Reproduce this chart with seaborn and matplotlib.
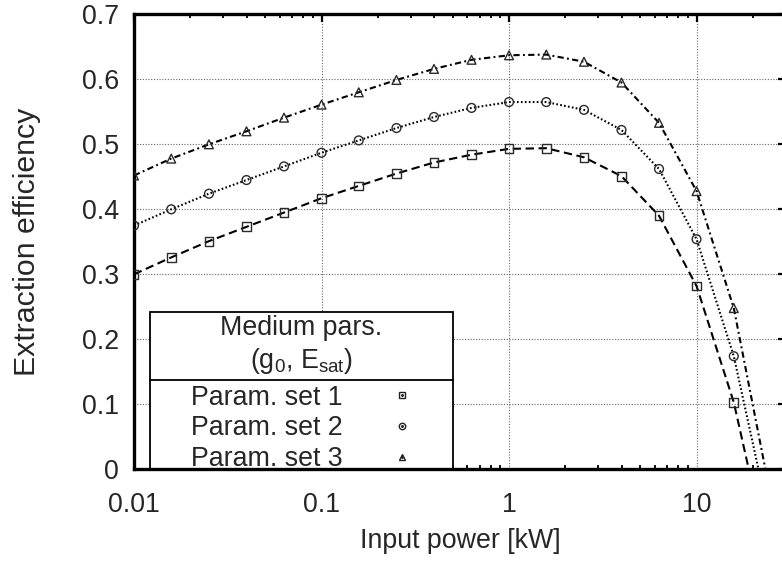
import numpy as np
import pandas as pd
import seaborn as sns
import matplotlib
matplotlib.use("Agg")
import matplotlib.pyplot as plt
from matplotlib.lines import Line2D
from matplotlib.patches import Rectangle
from matplotlib.legend_handler import HandlerTuple
from matplotlib.ticker import LogLocator, NullFormatter
from matplotlib.transforms import IdentityTransform

# ---------------- data ----------------
input_power = [0.01, 0.0158, 0.0251, 0.0398, 0.0631, 0.1, 0.158, 0.251,
               0.398, 0.631, 1.0, 1.58, 2.51, 3.98, 6.31, 10.0, 15.8]
set1 = [0.300, 0.326, 0.351, 0.373, 0.395, 0.417, 0.436, 0.455, 0.472,
        0.484, 0.493, 0.494, 0.480, 0.451, 0.390, 0.282, 0.103]
set2 = [0.375, 0.400, 0.424, 0.445, 0.466, 0.487, 0.506, 0.525, 0.542,
        0.556, 0.565, 0.565, 0.553, 0.522, 0.462, 0.354, 0.174]
set3 = [0.452, 0.478, 0.500, 0.520, 0.541, 0.561, 0.580, 0.599, 0.616,
        0.630, 0.637, 0.638, 0.627, 0.595, 0.533, 0.428, 0.248]
# power where each curve reaches zero efficiency
zero_crossing = [19.0, 21.4, 23.3]

series_names = ["Param. set 1", "Param. set 2", "Param. set 3"]
legend_title = "Medium pars.\n(g$_0$, E$_{sat}$)"
x_ticks = [0.01, 0.1, 1, 10]
x_ticklabels = ["0.01", "0.1", "1", "10"]
y_ticks = [0, 0.1, 0.2, 0.3, 0.4, 0.5, 0.6, 0.7]
y_ticklabels = ["0", "0.1", "0.2", "0.3", "0.4", "0.5", "0.6", "0.7"]
x_label = "Input power [kW]"
y_label = "Extraction efficiency"

# ---------------- tables ----------------
all_sets = [set1, set2, set3]
pts = pd.concat([pd.DataFrame({"x": input_power, "y": s, "series": n})
                 for s, n in zip(all_sets, series_names)], ignore_index=True)
lines = pd.concat([pd.DataFrame({"x": input_power + [z], "y": s + [0.0], "series": n})
                   for s, n, z in zip(all_sets, series_names, zero_crossing)],
                  ignore_index=True)

# ---------------- style ----------------
sns.set_style("white")
plt.rcParams["font.family"] = ["Liberation Sans", "DejaVu Sans"]
plt.rcParams["mathtext.default"] = "regular"

FS = 19.3
fig = plt.figure(figsize=(7.82, 5.63), dpi=100)
ax = fig.add_axes([134 / 782, (563 - 469.3) / 563, 652 / 782, 455 / 563])

dashes = {series_names[0]: (4, 2.2),
          series_names[1]: (0.8, 1.1),
          series_names[2]: (3, 1.6, 0.9, 1.6)}
markers = {series_names[0]: "s", series_names[1]: "o", series_names[2]: "^"}

sns.lineplot(data=lines, x="x", y="y", style="series", dashes=dashes,
             color="black", lw=1.5, legend=False, estimator=None, ax=ax)
sns.scatterplot(data=pts, x="x", y="y", style="series", markers=markers,
                color="#333333", s=40, legend=False, ax=ax, zorder=3)
for c in ax.collections:
    c.set_facecolor("none")
    c.set_edgecolor("#2a2a2a")
    c.set_linewidth(1.0)

ax.set_xscale("log")
ax.set_xlim(0.01, 30)
ax.set_ylim(0, 0.7)
ax.set_xticks(x_ticks)
ax.set_xticklabels(x_ticklabels)
ax.xaxis.set_minor_locator(LogLocator(base=10, subs=np.arange(2, 10)))
ax.xaxis.set_minor_formatter(NullFormatter())
ax.set_yticks(y_ticks)
ax.set_yticklabels(y_ticklabels)
for t in ax.get_yticklabels():
    t.set_va("center_baseline")

ax.tick_params(axis="both", which="major", direction="in", top=True, right=True,
               length=5.5, width=1.6, labelsize=FS, color="black")
ax.tick_params(axis="x", which="major", pad=16)
ax.tick_params(axis="y", which="major", pad=11)
ax.tick_params(axis="x", which="minor", direction="in", top=True, bottom=True,
               length=2.8, width=1.3, color="black")
ax.grid(True, which="major", ls=(0, (1, 1.5)), color="#666666", lw=0.8)
ax.set_axisbelow(True)
for sp in ax.spines.values():
    sp.set_linewidth(2.4)
    sp.set_color("black")

ax.set_xlabel(x_label, fontsize=FS)
ax.set_ylabel(y_label, fontsize=21.8)
ax.xaxis.set_label_coords(0.5, -0.128)
ax.yaxis.set_label_coords(-0.142, 0.5)

# ---------------- legend ----------------
handles = []
for n in series_names:
    h1 = Line2D([], [], ls="none", marker=markers[n], mfc="none", mec="#222222",
                ms=4.6, mew=1.0)
    h2 = Line2D([], [], ls="none", marker=".", color="#222222", ms=2.2)
    handles.append((h1, h2))
labels = ["     " + n for n in series_names]
LS = 0.18
leg = ax.legend(handles=handles, labels=labels, loc="lower left",
                bbox_to_anchor=((150 - 134) / 652, -7 / 455), borderaxespad=0,
                title=legend_title, title_fontsize=FS, fontsize=FS,
                markerfirst=False, handlelength=3.5, handletextpad=0.45,
                labelspacing=LS, borderpad=0.15, frameon=False,
                handler_map={tuple: HandlerTuple(ndivide=1, pad=0)})
leg.get_title().set_multialignment("center")
leg.get_title().set_linespacing(1.2)
leg._legend_box.sep = LS * FS + 3.0
leg.set_zorder(2.46)

fig.canvas.draw()
r = fig.canvas.get_renderer()
lb = leg.get_window_extent(r)
tb = leg.get_title().get_window_extent(r)
hb = leg._legend_handle_box.get_window_extent(r)
axb = ax.get_window_extent(r)
ytop = tb.y1 + 3
frame = Rectangle((lb.x0, axb.y0), lb.x1 - lb.x0, ytop - axb.y0,
                  transform=IdentityTransform(), facecolor="white",
                  edgecolor="black", lw=1.3, zorder=2.44, clip_on=False)
ax.add_artist(frame)
ysep = 0.5 * (tb.y0 + hb.y1)
sep = Line2D([lb.x0, lb.x1], [ysep, ysep], transform=IdentityTransform(),
             color="black", lw=1.3, zorder=2.45, clip_on=False)
ax.add_artist(sep)

fig.savefig("out.png", dpi=100)
